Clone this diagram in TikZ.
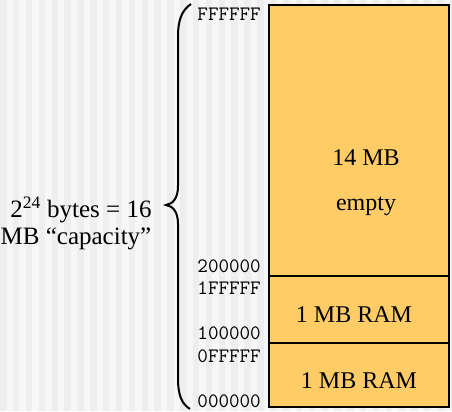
\documentclass[tikz,border=0pt]{standalone}
\usepackage{fontspec}
\setmainfont{Liberation Serif}
\definecolor{stripedark}{HTML}{EEEEEE}
\definecolor{stripelight}{HTML}{F7F7F7}
\definecolor{memfill}{HTML}{FFCC66}
\tikzset{
  region/.style={fill=memfill, draw=black, line width=2.2bp},
  addr/.style={anchor=base east, inner sep=0pt, font=\ttfamily\fontsize{20.5bp}{22bp}\selectfont},
  boxtext/.style={anchor=base, inner sep=0pt, font=\fontsize{24bp}{27bp}\selectfont},
  captext/.style={anchor=base, inner sep=0pt, font=\fontsize{25bp}{27bp}\selectfont},
  bracestyle/.style={draw=black, line width=2bp},
}
\begin{document}
\begin{tikzpicture}[x=1bp,y=-1bp]
\useasboundingbox (0,0) rectangle (452,411);
% striped background
\fill[stripedark] (0,0) rectangle (452,411);
\foreach \i in {0,...,35} {
  \fill[stripelight] ({6.6+\i*12.85},0) rectangle ++(6.4,411);
}
% memory regions
\path[region] (269,5) rectangle (449,276);
\path[region] (269,276) rectangle (449,343);
\path[region] (269,343) rectangle (449,407);
\draw[line width=2.4bp] (269,5) rectangle (449,407);
% texts in the regions
\node[boxtext] (t14) at (366,165) {14 MB};
\node[boxtext] (tempty) at (366,210) {empty};
\node[boxtext] (tram1) at (354,322) {1 MB RAM};
\node[boxtext] (tram2) at (359,388) {1 MB RAM};
% address labels
\node[addr] (aFFFFFF) at (261,20) {FFFFFF};
\node[addr] (a200000) at (261,272) {200000};
\node[addr] (a1FFFFF) at (261,294) {1FFFFF};
\node[addr] (a100000) at (261,339) {100000};
\node[addr] (a0FFFFF) at (261,362) {0FFFFF};
\node[addr] (a000000) at (261,407) {000000};
% brace
\draw[bracestyle] (191,4) .. controls (182,10) and (178,20) .. (178,36)
  -- (178,186) .. controls (178,198) and (173,204) .. (166,205)
  .. controls (173,206) and (178,212) .. (178,224)
  -- (178,378) .. controls (178,396) and (182,404) .. (190,409);
% capacity label
\node[captext] (cap1) at (81,217) {2\textsuperscript{24} bytes = 16};
\node[captext] (cap2) at (76,244) {MB “capacity”};
\end{tikzpicture}
\end{document}
